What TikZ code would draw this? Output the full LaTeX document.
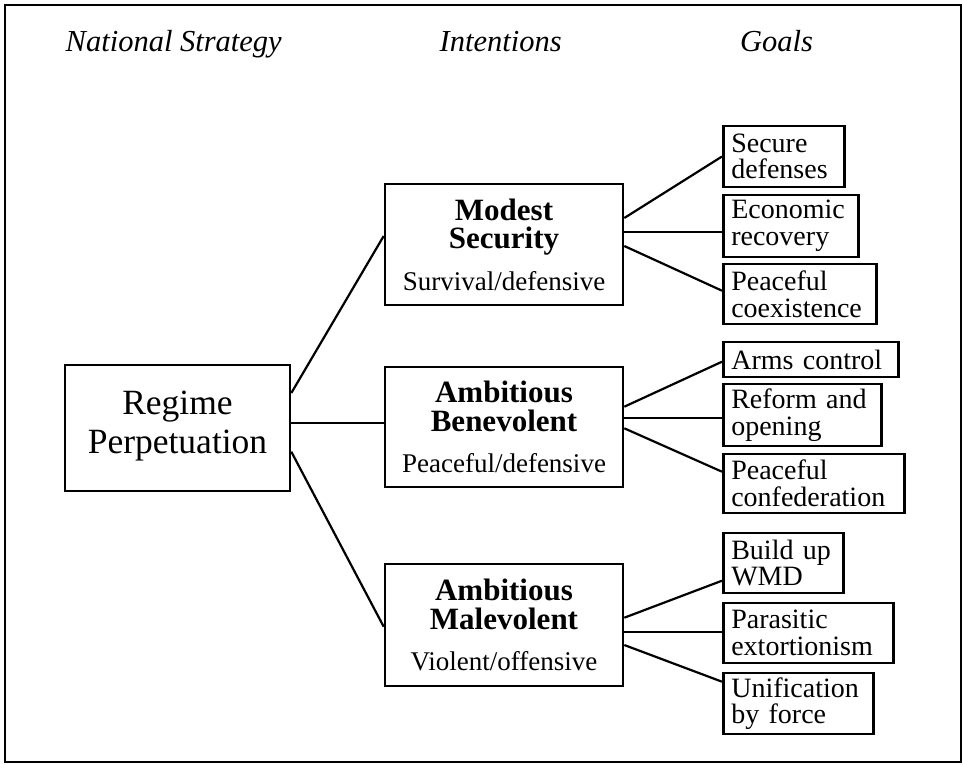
\documentclass[tikz,border=0pt]{standalone}
\usepackage{fontspec}
\setmainfont{Liberation Serif}
\newcommand{\titfont}{\fontsize{31}{28.4}\selectfont\bfseries}
\newcommand{\subfont}{\fontsize{27}{28.4}\selectfont}
\begin{document}
\begin{tikzpicture}[x=1pt,y=-1pt,
  box/.style={draw, line width=2.6pt, inner ysep=0pt},
  goal/.style={box, anchor=west, inner xsep=8pt, align=left,
    font=\fontsize{28}{26.7}\selectfont},
  intent/.style={box, text width=222pt, inner xsep=8pt, align=center,
    font=\subfont, execute at begin node={\lineskiplimit=-50pt}},
  head/.style={anchor=base west, inner sep=0pt, font=\fontsize{30.5}{32}\selectfont\itshape},
  link/.style={line width=2.2pt}]
\useasboundingbox (0,0) rectangle (963,764);
\draw[line width=2.2pt] (5,5) rectangle (961,762);

\node[head] (h1) at (65.5,51.7) {National Strategy};
\node[head] (h2) at (439.5,51.7) {Intentions};
\node[head] (h3) at (740,51.7) {Goals};

\node[box, minimum width=225pt, minimum height=126pt, align=center,
  font=\fontsize{35.5}{38.7}\selectfont] (rp) at (177.5,428) {Regime\\Perpetuation\rule[-12pt]{0pt}{12pt}};

\node[intent, minimum height=121pt] (ms) at (504,244.5)
  {{\titfont Modest\\Security}\\[13pt]Survival/defensive};
\node[intent, minimum height=120pt] (ab) at (504,427)
  {{\titfont Ambitious\\Benevolent}\\[13pt]Peaceful/defensive};
\node[intent, minimum height=122pt] (am) at (504,625)
  {{\titfont Ambitious\\Malevolent}\\[13pt]Violent/offensive};

\node[goal, text width=105pt, minimum height=61pt] (g1) at (722,156.5) {Secure\\defenses};
\node[goal, text width=119pt, minimum height=62pt] (g2) at (722,226) {Economic\\recovery};
\node[goal, text width=137pt, minimum height=60pt] (g3) at (722,294) {Peaceful\\coexistence};
\node[goal, text width=159pt, minimum height=35pt] (g4) at (722,359.5) {Arms control};
\node[goal, text width=142pt, minimum height=62pt] (g5) at (722,415) {Reform and\\opening};
\node[goal, text width=165pt, minimum height=59pt] (g6) at (722,483.5) {Peaceful\\confederation};
\node[goal, text width=104pt, minimum height=60pt] (g7) at (722,563) {Build up\\WMD};
\node[goal, text width=154pt, minimum height=60pt] (g8) at (722,633) {Parasitic\\extortionism};
\node[goal, text width=134pt, minimum height=61pt] (g9) at (722,703.5) {Unification\\by force};

\draw[link] ([yshift=35pt]rp.east) -- ([yshift=8.5pt]ms.west);
\draw[link] ([yshift=5pt]rp.east) -- ([yshift=4pt]ab.west);
\draw[link] ([yshift=-23.7pt]rp.east) -- ([yshift=-1.7pt]am.west);

\draw[link] ([yshift=26.5pt]ms.east) -- (g1.west);
\draw[link] ([yshift=12.2pt]ms.east) -- ([yshift=-6.3pt]g2.west);
\draw[link] ([yshift=-1.5pt]ms.east) -- ([yshift=3.3pt]g3.west);

\draw[link] ([yshift=20.3pt]ab.east) -- ([yshift=-2.2pt]g4.west);
\draw[link] ([yshift=9.3pt]ab.east) -- ([yshift=-2.7pt]g5.west);
\draw[link] ([yshift=-1.3pt]ab.east) -- ([yshift=11.8pt]g6.west);

\draw[link] ([yshift=7.3pt]am.east) -- ([yshift=-17.7pt]g7.west);
\draw[link] ([yshift=-6.7pt]am.east) -- ([yshift=1.3pt]g8.west);
\draw[link] ([yshift=-20pt]am.east) -- ([yshift=21.8pt]g9.west);
\end{tikzpicture}
\end{document}
